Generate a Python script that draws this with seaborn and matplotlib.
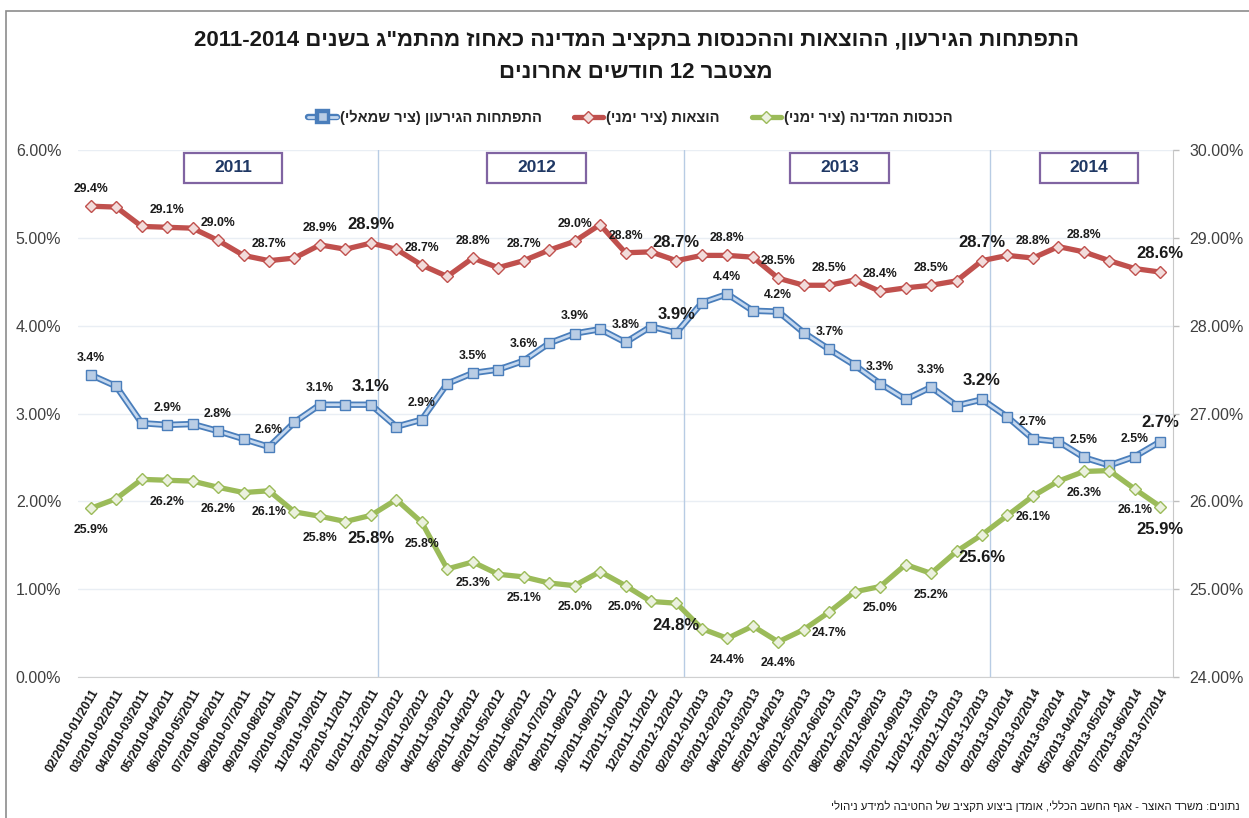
import re
import matplotlib
matplotlib.use('Agg')
import matplotlib.pyplot as plt
import matplotlib.patheffects as pe
from matplotlib.lines import Line2D
from matplotlib.patches import Rectangle
from matplotlib.ticker import FuncFormatter, MultipleLocator
import numpy as np
import pandas as pd
import seaborn as sns

# --- data ---
end_months = pd.period_range('2011-01', '2014-07', freq='M')
periods = [f"{(p - 11).strftime('%m/%Y')}-{p.strftime('%m/%Y')}" for p in end_months]

# deficit, % of GDP (left axis)
deficit = [3.44, 3.31, 2.89, 2.87, 2.88, 2.80, 2.71, 2.62, 2.90, 3.10, 3.10, 3.10,
           2.85, 2.93, 3.34, 3.46, 3.50, 3.60, 3.80, 3.91, 3.96, 3.81, 3.99, 3.92,
           4.26, 4.36, 4.17, 4.16, 3.92, 3.73, 3.55, 3.34, 3.16, 3.30, 3.09, 3.16,
           2.96, 2.71, 2.68, 2.50, 2.41, 2.51, 2.68]
# expenses, % of GDP (right axis)
expenses = [29.36, 29.35, 29.13, 29.12, 29.11, 28.97, 28.80, 28.74, 28.77, 28.92, 28.87, 28.94,
            28.87, 28.69, 28.56, 28.77, 28.66, 28.74, 28.86, 28.96, 29.15, 28.83, 28.84, 28.74,
            28.80, 28.80, 28.78, 28.54, 28.46, 28.46, 28.52, 28.39, 28.43, 28.46, 28.51, 28.74,
            28.80, 28.77, 28.90, 28.84, 28.74, 28.65, 28.61]
# state revenue, % of GDP (right axis)
revenue = [25.92, 26.03, 26.25, 26.24, 26.23, 26.16, 26.10, 26.12, 25.88, 25.83, 25.77, 25.84,
           26.02, 25.76, 25.23, 25.31, 25.17, 25.14, 25.07, 25.04, 25.20, 25.04, 24.86, 24.84,
           24.55, 24.44, 24.58, 24.40, 24.54, 24.74, 24.97, 25.03, 25.28, 25.18, 25.43, 25.62,
           25.84, 26.06, 26.23, 26.34, 26.35, 26.14, 25.94]

label_idx = [0] + list(range(3, 42, 2)) + [42]
expenses_label_idx = [i for i in label_idx if i != 41]
big_idx = [11, 23, 35, 42]

years = ['2011', '2012', '2013', '2014']
year_box_x = [5.6, 17.5, 29.4, 39.2]
year_sep_x = [11.3, 23.3, 35.3]

title_1 = 'התפתחות הגירעון, ההוצאות וההכנסות בתקציב המדינה כאחוז מהתמ"ג בשנים 2011-2014'
title_2 = 'מצטבר 12 חודשים אחרונים'
name_deficit = 'התפתחות הגירעון (ציר שמאלי)'
name_expenses = 'הוצאות (ציר ימני)'
name_revenue = 'הכנסות המדינה (ציר ימני)'
source_note = 'נתונים: משרד האוצר - אגף החשב הכללי, אומדן ביצוע תקציב של החטיבה למידע ניהולי'

MIRROR = str.maketrans('()', ')(')


def rtl(s):
    # matplotlib has no bidi support: put hebrew in visual order, keep number runs as is
    parts = re.split(r'(\d[\d\-./%]*\d%?|\d%?)', s)
    out = []
    for p in reversed(parts):
        if p and p[0].isdigit():
            out.append(p)
        else:
            out.append(p[::-1].translate(MIRROR))
    return ''.join(out)


sns.set_style('white')
plt.rcParams['font.family'] = ['Liberation Sans', 'DejaVu Sans']

BLUE_D, BLUE_L, BLUE_M = '#4a7ebb', '#c5d8ef', '#b9cde5'
RED, RED_M = '#c0504d', '#f2dcdb'
GREEN, GREEN_M = '#9bbb59', '#ebf1de'

W, H = 1249, 818
fig = plt.figure(figsize=(W / 100, H / 100), dpi=100)
ax = fig.add_axes([78 / W, 1 - 677 / H, (1173 - 78) / W, (677 - 150) / H])
ax2 = ax.twinx()
x = np.arange(len(periods))

# deficit: double line look
sns.lineplot(x=x, y=deficit, ax=ax, color=BLUE_D, linewidth=4.6, zorder=3)
sns.lineplot(x=x, y=deficit, ax=ax, color=BLUE_L, linewidth=2.0, marker='s', markersize=7.5,
             markerfacecolor=BLUE_M, markeredgecolor=BLUE_D, markeredgewidth=1, zorder=4)

sns.lineplot(x=x, y=expenses, ax=ax2, color=RED, linewidth=3.8, marker='D', markersize=6,
             markerfacecolor=RED_M, markeredgecolor=RED, markeredgewidth=1, zorder=3)
sns.lineplot(x=x, y=revenue, ax=ax2, color=GREEN, linewidth=3.8, marker='D', markersize=6,
             markerfacecolor=GREEN_M, markeredgecolor=GREEN, markeredgewidth=1, zorder=3)

ax.set_xlim(-0.5, len(periods) - 0.5)
ax.set_ylim(0, 6)
ax2.set_ylim(24, 30)
ax.yaxis.set_major_locator(MultipleLocator(1))
ax2.yaxis.set_major_locator(MultipleLocator(1))
pct = FuncFormatter(lambda v, _: f'{v:.2f}%')
ax.yaxis.set_major_formatter(pct)
ax2.yaxis.set_major_formatter(pct)

ax.set_xticks(x)
ax.set_xticklabels(periods, rotation=60, ha='right', rotation_mode='anchor',
                   fontsize=9, fontweight='bold', color='#1a1a1a')
ax.tick_params(axis='x', length=0, pad=7)
ax.tick_params(axis='y', length=0, pad=12, labelsize=11.5, labelcolor='#404040')
ax2.tick_params(axis='y', length=4, width=1, color='#bfbfbf', pad=8, labelsize=11.5,
                labelcolor='#404040')

ax.yaxis.grid(True, color='#e9eef4', linewidth=1)
ax.set_axisbelow(True)
for s in ['top', 'left', 'right']:
    ax.spines[s].set_visible(False)
for s in ['top', 'left', 'bottom']:
    ax2.spines[s].set_visible(False)
ax.spines['bottom'].set_color('#d0d0d0')
ax2.spines['right'].set_color('#c8c8c8')
ax.set_xlabel('')
ax.set_ylabel('')
ax2.set_ylabel('')

for v in year_sep_x:
    ax.axvline(v, color='#b8cce4', linewidth=1, zorder=1)

trans = ax.get_xaxis_transform()
for yr, xc in zip(years, year_box_x):
    ax.add_patch(Rectangle((xc - 1.93, 0.9374), 3.86, 0.0569, transform=trans,
                           facecolor='white', edgecolor='#8064a2', linewidth=1.6, zorder=5))
    ax.text(xc, 0.966, yr, transform=trans, ha='center', va='center', fontsize=12.5,
            fontweight='bold', color='#1f3864', zorder=6)


def add_labels(axis, values, idx, dy, va):
    for i in idx:
        big = i in big_idx
        axis.annotate(f'{values[i]:.1f}%', (x[i], values[i]), xytext=(0, dy),
                      textcoords='offset points', ha='center', va=va,
                      fontsize=12 if big else 8.8, fontweight='bold', color='#1a1a1a',
                      zorder=7)


add_labels(ax, deficit, label_idx, 8, 'bottom')
add_labels(ax2, expenses, expenses_label_idx, 8, 'bottom')
add_labels(ax2, revenue, label_idx, -11, 'top')

handles = [
    Line2D([], [], color=BLUE_L, linewidth=2.0, marker='s', markersize=7,
           markerfacecolor=BLUE_M, markeredgecolor=BLUE_D,
           path_effects=[pe.Stroke(linewidth=4.6, foreground=BLUE_D), pe.Normal()]),
    Line2D([], [], color=RED, linewidth=3.8, marker='D', markersize=6,
           markerfacecolor=RED_M, markeredgecolor=RED),
    Line2D([], [], color=GREEN, linewidth=3.8, marker='D', markersize=6,
           markerfacecolor=GREEN_M, markeredgecolor=GREEN),
]
fig.legend(handles, [rtl(name_deficit), rtl(name_expenses), rtl(name_revenue)],
           loc='center', bbox_to_anchor=(630 / W, 1 - 117 / H), ncol=3, frameon=False,
           handlelength=2.0, handletextpad=0.2, columnspacing=2.2,
           prop={'weight': 'bold', 'size': 10.5})

fig.text(636 / W, 1 - 41 / H, rtl(title_1), ha='center', va='center', fontsize=16,
         fontweight='bold', color='#1a1a1a')
fig.text(636 / W, 1 - 72 / H, rtl(title_2), ha='center', va='center', fontsize=16,
         fontweight='bold', color='#1a1a1a')
fig.text(1240 / W, 1 - 806 / H, rtl(source_note), ha='right', va='center', fontsize=8.2,
         color='#1a1a1a')

fig.patches.append(Rectangle((6 / W, -0.05), 1.2, 1.05 - 11 / H, transform=fig.transFigure,
                             fill=False, edgecolor='#8c8c8c', linewidth=1.2))

fig.savefig('out.png', dpi=100)
